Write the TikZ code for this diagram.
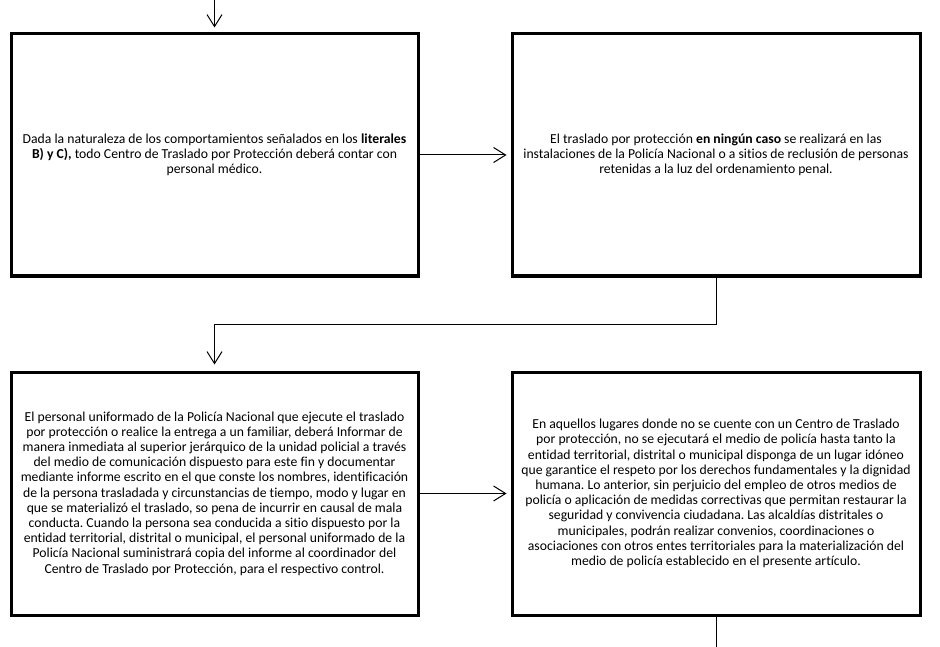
\documentclass[tikz,border=0pt]{standalone}
\usepackage{fontspec}
\setmainfont{Carlito}[Ligatures={NoCommon}]
\frenchspacing
\usetikzlibrary{arrows.meta}
\tikzset{
  box/.style={draw=black, line width=3pt, fill=white, align=center, inner sep=0pt,
    font=\fontsize{13.7pt}{15.2pt}\selectfont},
  arr/.style={line width=1pt, -{Straight Barb[length=12pt,width=15pt,line width=1pt]}},
  ln/.style={line width=1pt}
}
\begin{document}
\begin{tikzpicture}[x=1pt,y=-1pt]
\useasboundingbox (0,0) rectangle (940,647);
\node[box, minimum width=407pt, minimum height=242pt] (b1) at (214.5,155)
 {Dada la naturaleza de los comportamientos señalados en los \textbf{literales}\\
  \textbf{B) y C),} todo Centro de Traslado por Protección deberá contar con\\
  personal médico.};
\node[box, minimum width=408pt, minimum height=242pt] (b2) at (716,155)
 {El traslado por protección \textbf{en ningún caso} se realizará en las\\
  instalaciones de la Policía Nacional o a sitios de reclusión de personas\\
  retenidas a la luz del ordenamiento penal.};
\node[box, minimum width=407pt, minimum height=243pt] (b3) at (214.5,493.5)
 {El personal uniformado de la Policía Nacional que ejecute el traslado\\
  por protección o realice la entrega a un familiar, deberá Informar de\\
  manera inmediata al superior jerárquico de la unidad policial a través\\
  del medio de comunicación dispuesto para este fin y documentar\\
  mediante informe escrito en el que conste los nombres, identificación\\
  de la persona trasladada y circunstancias de tiempo, modo y lugar en\\
  que se materializó el traslado, so pena de incurrir en causal de mala\\
  conducta. Cuando la persona sea conducida a sitio dispuesto por la\\
  entidad territorial, distrital o municipal, el personal uniformado de la\\
  Policía Nacional suministrará copia del informe al coordinador del\\
  Centro de Traslado por Protección, para el respectivo control.};
\node[box, minimum width=408pt, minimum height=243pt] (b4) at (716,493.5)
 {En aquellos lugares donde no se cuente con un Centro de Traslado\\
  por protección, no se ejecutará el medio de policía hasta tanto la\\
  entidad territorial, distrital o municipal disponga de un lugar idóneo\\
  que garantice el respeto por los derechos fundamentales y la dignidad\\
  humana. Lo anterior, sin perjuicio del empleo de otros medios de\\
  policía o aplicación de medidas correctivas que permitan restaurar la\\
  seguridad y convivencia ciudadana. Las alcaldías distritales o\\
  municipales, podrán realizar convenios, coordinaciones o\\
  asociaciones con otros entes territoriales para la materialización del\\
  medio de policía establecido en el presente artículo.};
\coordinate (top) at (214.5,0);
\coordinate (mid) at (214.5,324);
\coordinate (bot) at (716,647);
\draw[arr, shorten >=5pt] (top) -- (b1.north);
\draw[arr, shorten >=4pt] (b1.east) -- (b2.west);
\draw[arr, shorten >=6pt] (b2.south) |- (mid) -- (b3.north);
\draw[arr, shorten >=4pt] (b3.east) -- (b4.west);
\draw[ln] (b4.south) -- (bot);
\end{tikzpicture}
\end{document}
